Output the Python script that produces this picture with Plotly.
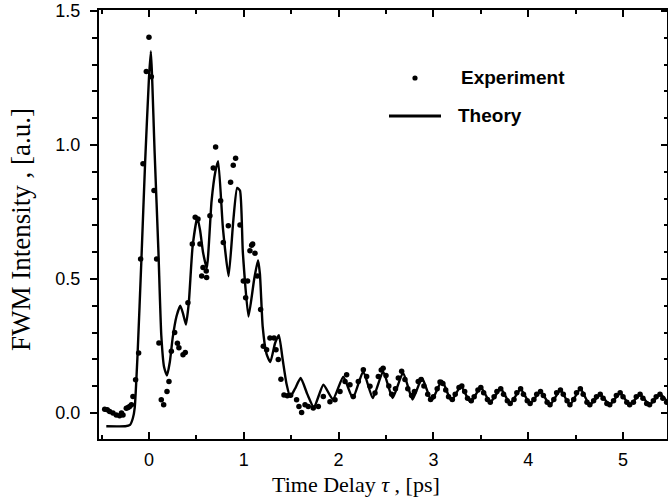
import plotly.graph_objects as go

# ---------------- data ----------------
theory_t = [-0.45, -0.25, -0.20, -0.17, -0.15, -0.12, -0.08, -0.04, 0.00, 0.02,
            0.06, 0.10, 0.13, 0.16, 0.19, 0.22, 0.25, 0.29, 0.33, 0.36,
            0.39, 0.42, 0.46, 0.51, 0.54, 0.57, 0.61, 0.66, 0.70, 0.73,
            0.78, 0.84, 0.89, 0.93, 0.96, 0.99, 1.05, 1.11, 1.15, 1.17,
            1.20, 1.24, 1.28, 1.33, 1.37, 1.41, 1.45, 1.49, 1.54, 1.60,
            1.67, 1.74, 1.84, 1.94, 2.05, 2.15, 2.26, 2.36, 2.47, 2.57,
            2.68, 2.78, 2.88, 2.98, 3.09, 3.19, 3.29, 3.39, 3.50, 3.60,
            3.71, 3.81, 3.92, 4.02, 4.13, 4.23, 4.34, 4.44, 4.55, 4.65,
            4.76, 4.86, 4.97, 5.07, 5.18, 5.28, 5.39, 5.46]
theory_y = [-0.05, -0.05, -0.045, -0.02, 0.02, 0.22, 0.57, 0.94, 1.25, 1.35,
            0.97, 0.60, 0.29, 0.17, 0.14, 0.19, 0.28, 0.36, 0.40, 0.37,
            0.33, 0.41, 0.62, 0.73, 0.68, 0.60, 0.54, 0.79, 0.90, 0.94,
            0.69, 0.51, 0.72, 0.84, 0.83, 0.60, 0.36, 0.50, 0.57, 0.52,
            0.32, 0.22, 0.19, 0.26, 0.29, 0.20, 0.11, 0.06, 0.09, 0.13,
            0.07, 0.02, 0.105, 0.05, 0.135, 0.055, 0.155, 0.055, 0.155, 0.055,
            0.15, 0.05, 0.13, 0.045, 0.12, 0.045, 0.10, 0.04, 0.095, 0.04,
            0.09, 0.035, 0.088, 0.035, 0.08, 0.03, 0.085, 0.03, 0.09, 0.03,
            0.068, 0.03, 0.075, 0.03, 0.068, 0.03, 0.07, 0.045]

exp_t = [-0.467, -0.44, -0.415, -0.38, -0.345, -0.31, -0.29, -0.274, -0.239, -0.22,
         -0.204, -0.185, -0.169, -0.141, -0.109, -0.088, -0.063, -0.028, 0.0, 0.025,
         0.053, 0.081, 0.105, 0.13, 0.155, 0.19, 0.211, 0.236, 0.271, 0.30,
         0.316, 0.359, 0.383, 0.411, 0.457, 0.488, 0.517, 0.538, 0.556, 0.57,
         0.604, 0.608, 0.643, 0.678, 0.703, 0.756, 0.784, 0.837, 0.861, 0.889,
         0.914, 0.96, 0.995, 1.02, 1.04, 1.065, 1.083, 1.094, 1.118, 1.143,
         1.178, 1.206, 1.241, 1.276, 1.319, 1.34, 1.364, 1.392, 1.424, 1.459,
         1.494, 1.557, 1.582, 1.61, 1.646, 1.68, 1.733, 1.786, 1.839, 1.909,
         1.962, 2.015, 2.068, 2.085, 2.12, 2.155, 2.208, 2.261, 2.296, 2.331,
         2.384, 2.419, 2.45, 2.47, 2.50, 2.53, 2.56, 2.60, 2.63, 2.665,
         2.70, 2.73, 2.77, 2.80, 2.84, 2.87, 2.90, 2.94, 2.97, 3.00,
         3.04, 3.07, 3.10, 3.13, 3.16, 3.20, 3.23, 3.27, 3.30, 3.33,
         3.36, 3.40, 3.43, 3.47, 3.50, 3.53, 3.57, 3.60, 3.64, 3.67,
         3.71, 3.74, 3.78, 3.81, 3.85, 3.88, 3.92, 3.95, 3.99, 4.02,
         4.06, 4.09, 4.13, 4.16, 4.20, 4.23, 4.27, 4.30, 4.34, 4.37,
         4.41, 4.44, 4.48, 4.51, 4.55, 4.58, 4.62, 4.65, 4.69, 4.72,
         4.76, 4.79, 4.83, 4.86, 4.90, 4.93, 4.97, 5.00, 5.04, 5.07,
         5.11, 5.14, 5.18, 5.21, 5.25, 5.28, 5.32, 5.35, 5.39, 5.42, 5.46]
exp_y = [0.014, 0.012, 0.005, 0.0, -0.008, -0.011, 0.0, -0.008, 0.017, 0.02,
         0.024, 0.03, 0.061, 0.124, 0.224, 0.574, 0.93, 1.274, 1.402, 1.255,
         0.83, 0.574, 0.261, 0.049, 0.03, 0.08, 0.117, 0.23, 0.30, 0.26,
         0.243, 0.217, 0.225, 0.411, 0.63, 0.73, 0.724, 0.63, 0.511, 0.543,
         0.53, 0.505, 0.736, 0.914, 0.993, 0.792, 0.636, 0.699, 0.861, 0.924,
         0.951, 0.701, 0.492, 0.43, 0.492, 0.605, 0.626, 0.63, 0.596, 0.511,
         0.386, 0.249, 0.236, 0.28, 0.28, 0.236, 0.199, 0.126, 0.067, 0.064,
         0.066, 0.049, 0.024, 0.001, 0.03, 0.024, 0.018, 0.024, 0.061, 0.042,
         0.049, 0.08, 0.117, 0.142, 0.105, 0.061, 0.117, 0.161, 0.136, 0.099,
         0.074, 0.136, 0.16, 0.167, 0.14, 0.10, 0.07, 0.09, 0.13, 0.155,
         0.125, 0.09, 0.065, 0.08, 0.117, 0.125, 0.10, 0.07, 0.05, 0.06,
         0.09, 0.115, 0.11, 0.085, 0.06, 0.05, 0.07, 0.095, 0.10, 0.08,
         0.055, 0.045, 0.06, 0.085, 0.095, 0.075, 0.05, 0.04, 0.06, 0.08,
         0.09, 0.07, 0.045, 0.035, 0.05, 0.075, 0.09, 0.07, 0.045, 0.035,
         0.05, 0.07, 0.08, 0.065, 0.04, 0.03, 0.05, 0.075, 0.085, 0.07,
         0.045, 0.03, 0.05, 0.075, 0.09, 0.07, 0.04, 0.03, 0.045, 0.06,
         0.07, 0.055, 0.035, 0.03, 0.045, 0.065, 0.075, 0.06, 0.04, 0.03,
         0.04, 0.06, 0.07, 0.055, 0.035, 0.03, 0.045, 0.06, 0.07, 0.055, 0.04]

x_ticks = [0, 1, 2, 3, 4, 5]
x_tick_labels = ["0", "1", "2", "3", "4", "5"]
y_ticks = [0.0, 0.5, 1.0, 1.5]
y_tick_labels = ["0.0", "0.5", "1.0", "1.5"]

x_range = [-0.527, 5.464]
y_range = [-0.0975, 1.504]

# ---------------- layout geometry ----------------
W, H = 668, 497
ML, MR, MT, MB = 99, 1, 10, 58
PW, PH = W - ML - MR, H - MT - MB


def px(xp):
    return (xp - ML) / PW


def py(yp):
    return (H - MB - yp) / PH


SANS = "Liberation Sans, Arial, sans-serif"
SERIF = "Liberation Serif, Times New Roman, serif"

fig = go.Figure()
fig.add_trace(go.Scatter(
    x=theory_t, y=theory_y, mode="lines", name="Theory",
    line=dict(color="black", width=2.4, shape="spline", smoothing=0.5),
    showlegend=False))
fig.add_trace(go.Scatter(
    x=exp_t, y=exp_y, mode="markers", name="Experiment",
    marker=dict(color="black", size=5.5), showlegend=False))
# invisible trace on the right axis to carry mirrored inside ticks
fig.add_trace(go.Scatter(x=[x_range[0]], y=[y_range[0]], yaxis="y2",
                         mode="markers", marker=dict(opacity=0),
                         showlegend=False, hoverinfo="skip"))

fig.update_layout(
    width=W, height=H,
    margin=dict(l=ML, r=MR, t=MT, b=MB),
    paper_bgcolor="white", plot_bgcolor="white",
    xaxis=dict(range=x_range, tickmode="array", tickvals=x_ticks, ticktext=x_tick_labels,
               ticks="inside", ticklen=7, tickwidth=2, tickcolor="black",
               showline=True, linewidth=2, linecolor="black", mirror="ticks",
               showgrid=False, zeroline=False,
               tickfont=dict(family=SANS, size=18, color="black"),
               ticklabelstandoff=3,
               minor=dict(dtick=0.5, tick0=0, ticks="inside", ticklen=4,
                          tickwidth=2, tickcolor="black", showgrid=False)),
    yaxis=dict(range=y_range, tickmode="array", tickvals=y_ticks, ticktext=y_tick_labels,
               ticks="outside", ticklen=7, tickwidth=2, tickcolor="black",
               showline=True, linewidth=2, linecolor="black",
               showgrid=False, zeroline=False,
               tickfont=dict(family=SANS, size=18, color="black"),
               ticklabelstandoff=6,
               minor=dict(dtick=0.1, tick0=0, ticks="outside", ticklen=5,
                          tickwidth=1.5, tickcolor="black", showgrid=False)),
    yaxis2=dict(range=y_range, overlaying="y", side="right", tickmode="array",
                tickvals=y_ticks, showticklabels=False,
                ticks="inside", ticklen=6, tickwidth=2, tickcolor="black",
                showline=True, linewidth=1.5, linecolor="black",
                showgrid=False, zeroline=False,
                minor=dict(dtick=0.1, tick0=0, ticks="inside", ticklen=3,
                           tickwidth=1.5, tickcolor="black", showgrid=False)),
    showlegend=False,
)

# axis titles
fig.add_annotation(text="Time Delay <i>τ</i> , [ps]", xref="paper", yref="paper",
                   x=px(356), y=py(484), xanchor="center", yanchor="middle",
                   showarrow=False, font=dict(family=SERIF, size=22, color="black"))
fig.add_annotation(text="FWM Intensity , [a.u.]", xref="paper", yref="paper",
                   x=px(21), y=py(230), xanchor="center", yanchor="middle",
                   textangle=-90, showarrow=False,
                   font=dict(family=SERIF, size=27, color="black"))

# legend (drawn)
r = 2.6
fig.add_shape(type="circle", xref="paper", yref="paper",
              x0=px(415 - r), x1=px(415 + r), y0=py(78 + r), y1=py(78 - r),
              fillcolor="black", line=dict(color="black", width=0))
fig.add_shape(type="line", xref="paper", yref="paper",
              x0=px(389), x1=px(441), y0=py(116), y1=py(116),
              line=dict(color="black", width=3))
fig.add_annotation(text="Experiment", xref="paper", yref="paper",
                   x=px(459), y=py(78), xanchor="left", yanchor="middle",
                   showarrow=False,
                   font=dict(family=SANS, size=19, color="black", weight="bold"))
fig.add_annotation(text="Theory", xref="paper", yref="paper",
                   x=px(456), y=py(116), xanchor="left", yanchor="middle",
                   showarrow=False,
                   font=dict(family=SANS, size=19, color="black", weight="bold"))

fig.write_html("out.html")
